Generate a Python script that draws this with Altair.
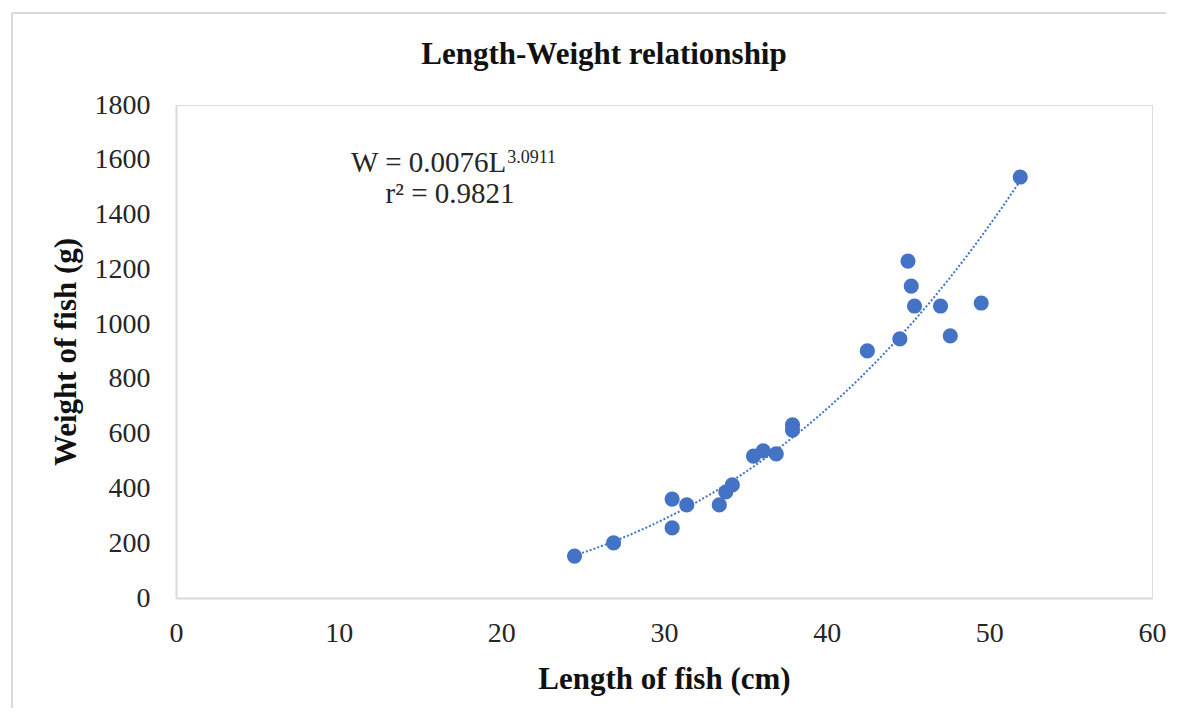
import altair as alt
import pandas as pd

length_cm = [24.5, 26.9, 30.5, 30.5, 31.4, 33.4, 33.8, 34.2, 35.5, 36.1, 36.9,
             37.9, 37.9, 42.5, 44.5, 45.0, 45.2, 45.4, 47.0, 47.6, 49.5, 51.9]
weight_g = [153, 201, 361, 256, 340, 340, 387, 413, 518, 537, 526,
            632, 613, 902, 946, 1230, 1139, 1066, 1066, 957, 1077, 1537]

x_ticks = [0, 10, 20, 30, 40, 50, 60]
y_ticks = [0, 200, 400, 600, 800, 1000, 1200, 1400, 1600, 1800]

eq_main = ["W = 0.0076L"]
eq_sup = ["3.0911"]
eq_r2 = ["r² = 0.9821"]
eq_x = [20.3, 16.85]
eq_y = [1590, 1606, 1475]

df = pd.DataFrame({"L": length_cm, "W": weight_g})

FONT = "Liberation Serif"
BLUE = "#4472C4"
TXT = "#262626"

xs = alt.Scale(domain=[0, 60], nice=False, zero=True)
ys = alt.Scale(domain=[0, 1800], nice=False, zero=True)

xenc = alt.X("L:Q", scale=xs,
             axis=alt.Axis(title="Length of fish (cm)", values=x_ticks, grid=False, format="d",
                           ticks=False, domainColor="#d9d9d9", domainWidth=2,
                           labelFont=FONT, labelFontSize=28, labelColor=TXT,
                           labelPadding=21, titleFont=FONT, titleFontSize=31,
                           titleFontWeight="bold", titleColor="#111111", titlePadding=17,
                           labelFlush=False))
yenc = alt.Y("W:Q", scale=ys,
             axis=alt.Axis(title="Weight of fish (g)", values=y_ticks, grid=False, format="d",
                           ticks=False, domainColor="#d9d9d9", domainWidth=2,
                           labelFont=FONT, labelFontSize=28, labelColor=TXT,
                           labelPadding=26, titleFont=FONT, titleFontSize=31,
                           titleFontWeight="bold", titleColor="#111111", titlePadding=12,
                           labelFlush=False))

one = pd.DataFrame({"a": [0]})
frame_top = alt.Chart(one).mark_rule(stroke="#d9d9d9", strokeWidth=2).encode(
    x=alt.value(-164), x2=alt.value(1000), y=alt.value(-92))
frame_left = alt.Chart(one).mark_rule(stroke="#d9d9d9", strokeWidth=2).encode(
    x=alt.value(-164), y=alt.value(-92), y2=alt.value(700))

title = alt.Chart(pd.DataFrame({"t": ["Length-Weight relationship"]})).mark_text(
    font=FONT, fontSize=31, fontWeight="bold", color="#111111",
    align="center", baseline="middle"
).encode(x=alt.value(428), y=alt.value(-50), text="t:N")

points = alt.Chart(df).mark_circle(size=230, color=BLUE, opacity=1).encode(x=xenc, y=yenc)

trend = alt.Chart(df).transform_regression("L", "W", method="pow").mark_line(
    color=BLUE, strokeWidth=2, strokeDash=[2, 2]
).encode(x=alt.X("L:Q", scale=xs), y=alt.Y("W:Q", scale=ys))

t1 = alt.Chart(pd.DataFrame({"x": [eq_x[0]], "y": [eq_y[0]], "t": eq_main})).mark_text(
    font=FONT, fontSize=29, align="right", baseline="middle", color=TXT
).encode(x=alt.X("x:Q", scale=xs), y=alt.Y("y:Q", scale=ys), text="t:N")
t2 = alt.Chart(pd.DataFrame({"x": [eq_x[0]], "y": [eq_y[1]], "t": eq_sup})).mark_text(
    font=FONT, fontSize=18, align="left", baseline="middle", color=TXT, dx=1
).encode(x=alt.X("x:Q", scale=xs), y=alt.Y("y:Q", scale=ys), text="t:N")
t3 = alt.Chart(pd.DataFrame({"x": [eq_x[1]], "y": [eq_y[2]], "t": eq_r2})).mark_text(
    font=FONT, fontSize=29, align="center", baseline="middle", color=TXT
).encode(x=alt.X("x:Q", scale=xs), y=alt.Y("y:Q", scale=ys), text="t:N")

chart = alt.layer(frame_top, frame_left, title, trend, points, t1, t2, t3).properties(
    width=976, height=493,
    autosize=alt.AutoSizeParams(type="none"),
    padding={"left": 168, "top": 97, "right": 14, "bottom": 110},
).configure_view(stroke=None).configure(background="white")

chart.save("out.html", embed_options={"renderer": "svg", "actions": False})
